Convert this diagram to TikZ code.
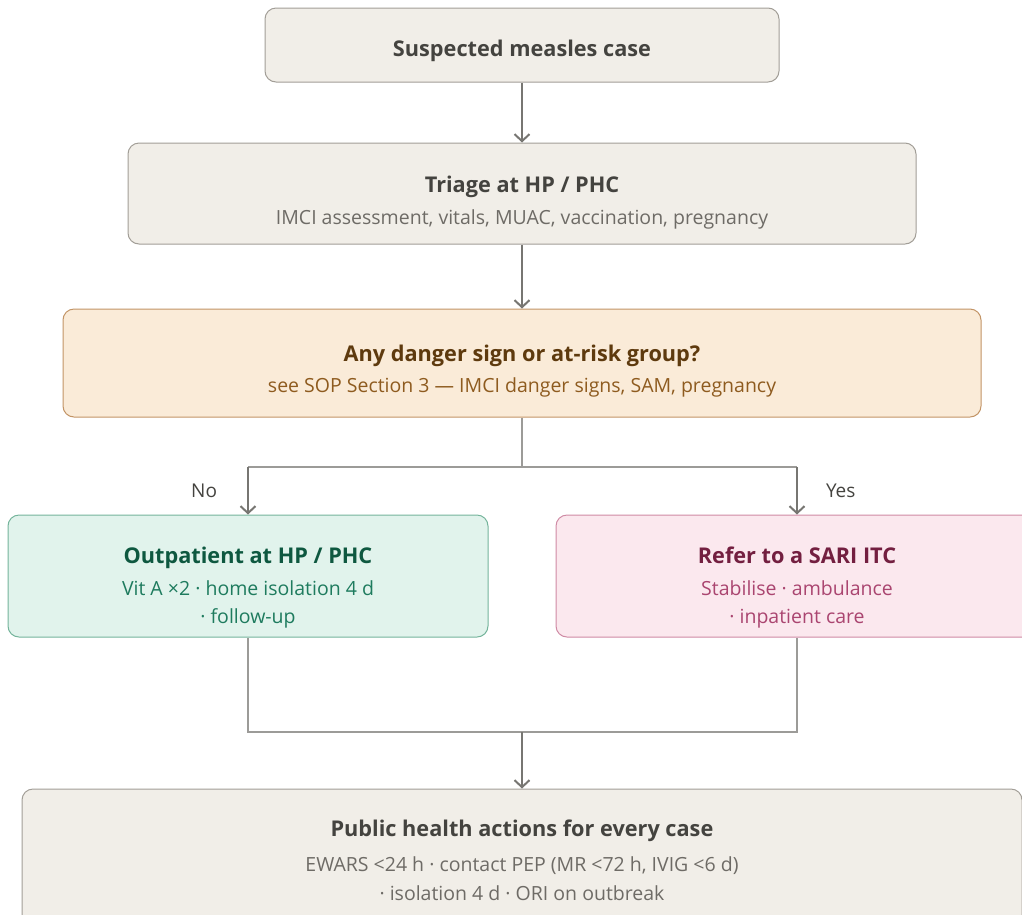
\documentclass[tikz,border=0pt]{standalone}
\usepackage{fontspec}
\setmainfont{Open Sans}
\usetikzlibrary{arrows.meta}

\definecolor{plainfill}{HTML}{F1EEE8}
\definecolor{plainline}{HTML}{A29E97}
\definecolor{plaintitle}{HTML}{44433F}
\definecolor{plainsub}{HTML}{6E6B66}
\definecolor{warnfill}{HTML}{FAEBD8}
\definecolor{warnline}{HTML}{C29466}
\definecolor{warntitle}{HTML}{5E3A0E}
\definecolor{warnsub}{HTML}{8E5B1F}
\definecolor{okfill}{HTML}{E1F3EC}
\definecolor{okline}{HTML}{74B49B}
\definecolor{oktitle}{HTML}{0E5840}
\definecolor{oksub}{HTML}{1E7B5E}
\definecolor{alertfill}{HTML}{FBE8EE}
\definecolor{alertline}{HTML}{CF8AA4}
\definecolor{alerttitle}{HTML}{731F40}
\definecolor{alertsub}{HTML}{AA4570}
\definecolor{arrowgray}{HTML}{777672}
\definecolor{linkgray}{HTML}{9C9B98}

\newcommand\Mid{522}
\newcommand\Lft{248}
\newcommand\Rgt{797}

\tikzset{
  box/.style={draw, rounded corners=11pt, line width=1pt, inner sep=0pt},
  plainbox/.style={box, draw=plainline, fill=plainfill},
  warnbox/.style={box, draw=warnline, fill=warnfill},
  okbox/.style={box, draw=okline, fill=okfill},
  alertbox/.style={box, draw=alertline, fill=alertfill},
  head/.style={anchor=base, inner sep=0pt, font=\bfseries\fontsize{21.7}{25}\selectfont},
  sub/.style={anchor=base, inner sep=0pt, font=\fontsize{19.5}{23}\selectfont},
  branch/.style={inner sep=0pt, text=plaintitle, font=\fontsize{19}{22}\selectfont},
  link/.style={line width=2pt, draw=linkgray},
  flow/.style={line width=2pt, draw=arrowgray, -{Straight Barb[length=7pt, width=15pt, line width=2pt]}},
}

\begin{document}
\begin{tikzpicture}[x=1pt, y=-1pt]

  \useasboundingbox (0,0) rectangle (1022,914);

  %% boxes
  \node[plainbox, minimum width=514, minimum height=74] (suspect) at (\Mid, 45) {};
  \node[plainbox, minimum width=788, minimum height=101] (triage) at (\Mid, 193.5) {};
  \node[warnbox, minimum width=918, minimum height=108] (danger) at (\Mid, 363) {};
  \node[okbox, minimum width=480, minimum height=122] (outpt) at (\Lft, 576) {};
  \node[alertbox, minimum width=482, minimum height=122] (refer) at (\Rgt, 576) {};
  \node[plainbox, minimum width=1000, minimum height=140] (public) at (\Mid, 859) {};

  %% texts
  \node[head, text=plaintitle] (suspectT) at (\Mid, 56) {Suspected measles case};
  \node[head, text=plaintitle] (triageT) at (\Mid, 192.5) {Triage at HP / PHC};
  \node[sub, text=plainsub] (triageS) at (\Mid, 224) {IMCI assessment, vitals, MUAC, vaccination, pregnancy};
  \node[head, text=warntitle] (dangerT) at (\Mid, 361) {Any danger sign or at-risk group?};
  \node[sub, text=warnsub] (dangerS) at (\Mid, 392) {see SOP Section 3 — IMCI danger signs, SAM, pregnancy};
  \node[head, text=oktitle] (outptT) at (\Lft, 563) {Outpatient at HP / PHC};
  \node[sub, text=oksub] (outptS) at (\Lft, 595) {Vit A ×2 · home isolation 4 d};
  \node[sub, text=oksub] (outptS2) at (\Lft, 623) {· follow-up};
  \node[head, text=alerttitle] (referT) at (\Rgt, 563) {Refer to a SARI ITC};
  \node[sub, text=alertsub] (referS) at (\Rgt, 595) {Stabilise · ambulance};
  \node[sub, text=alertsub] (referS2) at (\Rgt, 623) {· inpatient care};
  \node[head, text=plaintitle] (publicT) at (\Mid, 836) {Public health actions for every case};
  \node[sub, text=plainsub] (publicS) at (\Mid, 871) {EWARS <24 h · contact PEP (MR <72 h, IVIG <6 d)};
  \node[sub, text=plainsub] (publicS2) at (\Mid, 900.5) {· isolation 4 d · ORI on outbreak};

  %% split and merge points
  \coordinate (split) at (\Mid, 467);
  \coordinate (splitL) at (\Lft, 467);
  \coordinate (splitR) at (\Rgt, 467);
  \coordinate (joinL) at (\Lft, 732);
  \coordinate (joinR) at (\Rgt, 732);
  \coordinate (join) at (\Mid, 732);

  %% connectors
  \draw[flow] (suspect) -- (triage); %% case -> triage
  \draw[flow] (triage) -- (danger); %% triage -> question
  \draw[link] (danger) -- (split); %% question stem
  \draw[link] (splitL) -- (splitR);
  \draw[flow] (splitL) -- (outpt) node[pos=0.5, branch, anchor=east, xshift=-30pt] (no) {No}; %% no
  \draw[flow] (splitR) -- (refer) node[pos=0.5, branch, anchor=west, xshift=28pt] (yes) {Yes}; %% yes
  \draw[link] (outpt) -- (joinL) -- (joinR) -- (refer);
  \draw[flow] (join) -- (public); %% both -> public health

\end{tikzpicture}
\end{document}
